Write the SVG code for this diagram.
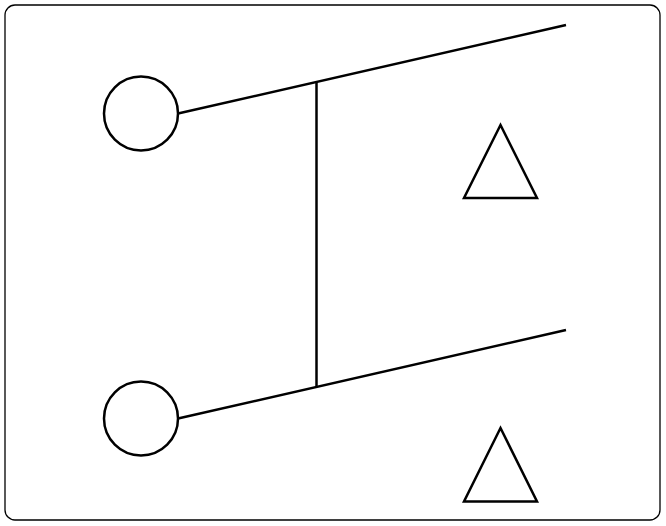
<svg xmlns="http://www.w3.org/2000/svg" width="666" height="526" viewBox="0 0 666 526">
<style>
.s{fill:none;stroke:#000;stroke-width:2.5}
.b{fill:#fff;stroke:#000;stroke-width:1.3}
</style>
<rect class="b" x="5" y="5" width="655" height="515" rx="10"/>
<g id="connectors">
<line class="s" x1="178" y1="113.5" x2="566" y2="25"/>
<line class="s" x1="178" y1="418.5" x2="566" y2="330"/>
<line class="s" x1="316.5" y1="81.5" x2="316.5" y2="386.5"/>
</g>
<g id="circle1"><circle class="s" cx="141" cy="113.5" r="37"/></g>
<g id="circle2"><circle class="s" cx="141" cy="418.5" r="37"/></g>
<g id="triangle1"><polygon class="s" points="500.5,125 464,198 537,198"/></g>
<g id="triangle2"><polygon class="s" points="500.5,428 464,501.5 537,501.5"/></g>
</svg>
